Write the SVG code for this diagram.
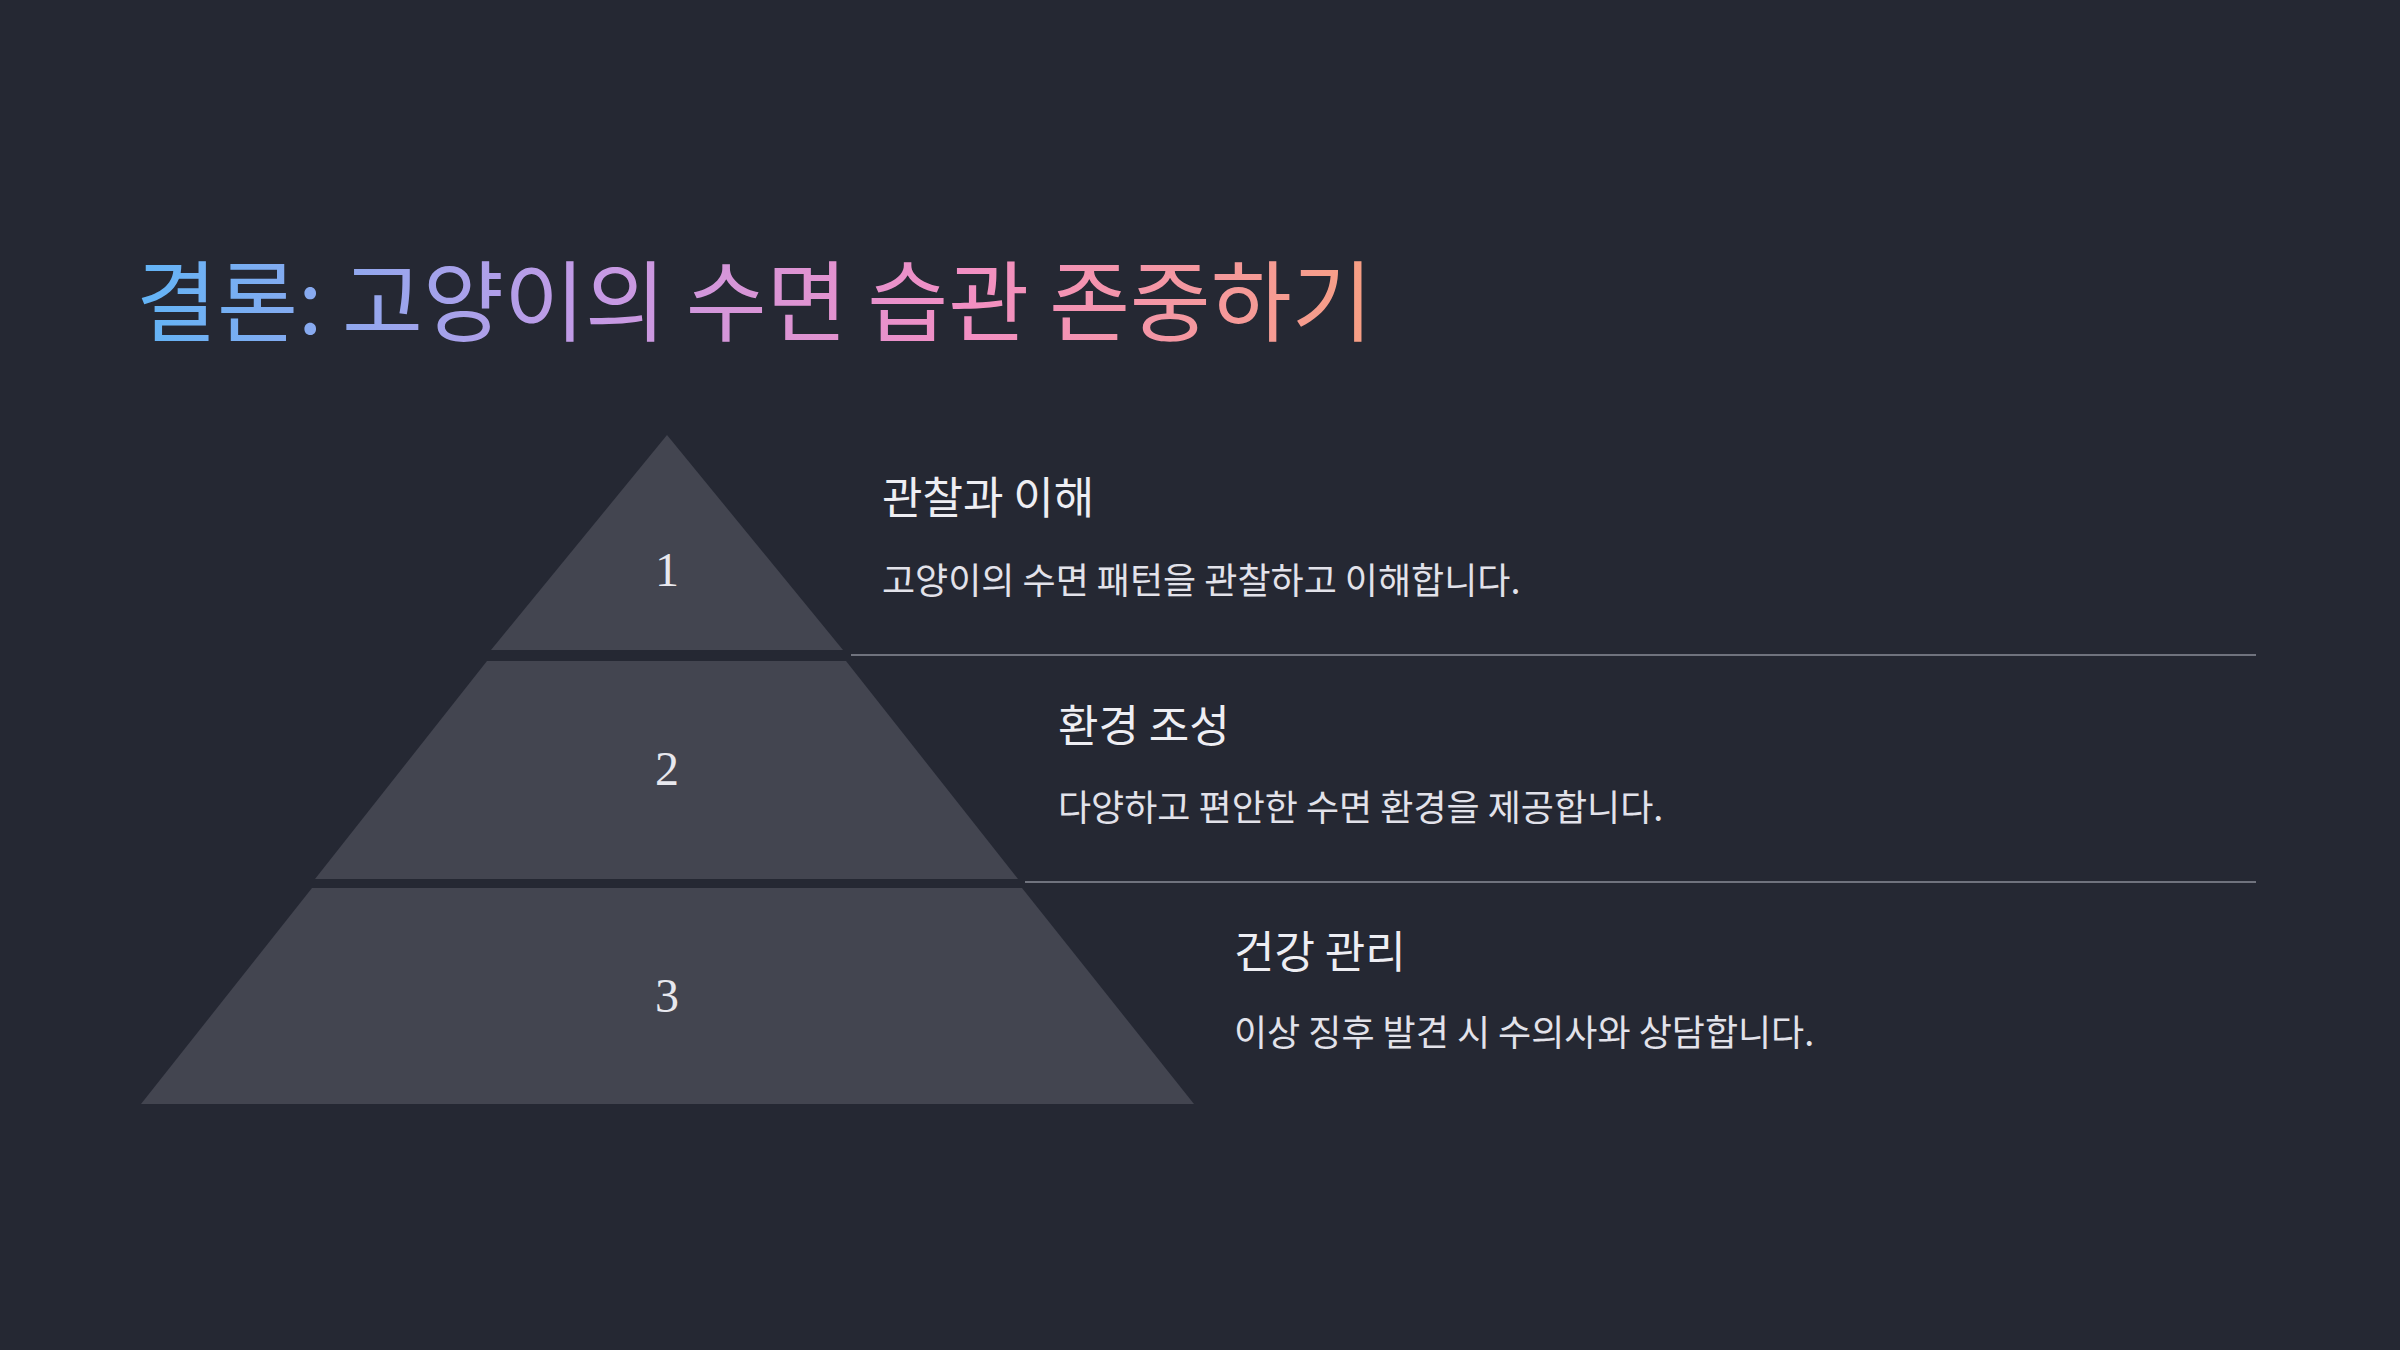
<svg xmlns="http://www.w3.org/2000/svg" width="2400" height="1350" viewBox="0 0 2400 1350">
<defs>
<linearGradient id="tg" gradientUnits="userSpaceOnUse" x1="138" y1="0" x2="1405" y2="0">
<stop offset="0" stop-color="#62b4f6"/>
<stop offset="0.35" stop-color="#c39ae6"/>
<stop offset="0.65" stop-color="#f28fc4"/>
<stop offset="1" stop-color="#f7a07e"/>
</linearGradient>
<style>
.tier{fill:#434550}
.num{font-family:"Liberation Serif",serif;font-size:48px;fill:#e8e8ee;text-anchor:middle}
.h{font-family:"Noto Sans CJK KR",sans-serif;font-size:44px;fill:#eeeef3}
.d{font-family:"Noto Sans CJK KR",sans-serif;font-size:36px;fill:#e2e2ea}
.sep{stroke:#70737e;stroke-width:2}
</style>
</defs>
<rect width="2400" height="1350" fill="#252833"/>
<text x="136" y="334" font-family="Noto Sans CJK KR, sans-serif" font-size="88" fill="url(#tg)">결론: 고양이의 수면 습관 존중하기</text>
<g id="connectors">
<line class="sep" x1="851" y1="655" x2="2256" y2="655"/>
<line class="sep" x1="1025" y1="882" x2="2256" y2="882"/>
</g>
<g id="tier1">
<polygon class="tier" points="667,435 843,650 491,650"/>
<text class="num" x="667" y="586">1</text>
<text class="h" x="882" y="514">관찰과 이해</text>
<text class="d" x="882" y="594">고양이의 수면 패턴을 관찰하고 이해합니다.</text>
</g>
<g id="tier2">
<polygon class="tier" points="487,661 846,661 1018,879 315,879"/>
<text class="num" x="667" y="785">2</text>
<text class="h" x="1058" y="742">환경 조성</text>
<text class="d" x="1058" y="821">다양하고 편안한 수면 환경을 제공합니다.</text>
</g>
<g id="tier3">
<polygon class="tier" points="312,888 1022,888 1194,1104 141,1104"/>
<text class="num" x="667" y="1012">3</text>
<text class="h" x="1234" y="968">건강 관리</text>
<text class="d" x="1234" y="1046">이상 징후 발견 시 수의사와 상담합니다.</text>
</g>
</svg>
